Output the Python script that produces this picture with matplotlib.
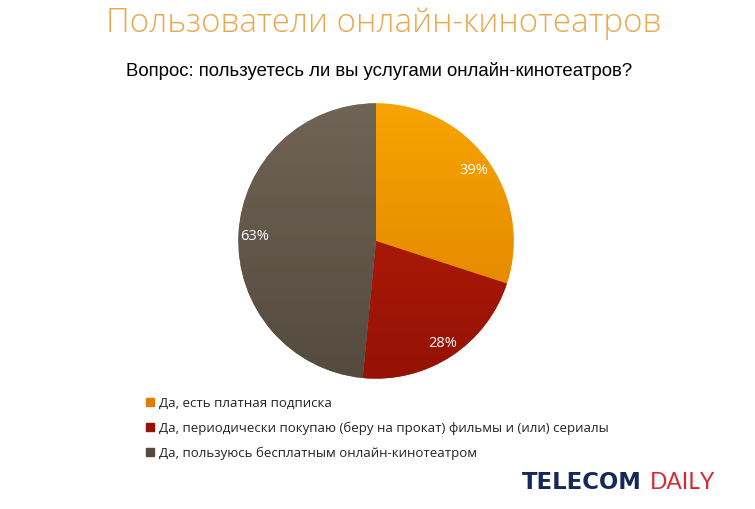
import numpy as np
import matplotlib
matplotlib.use("Agg")
import matplotlib.pyplot as plt
from matplotlib.colors import LinearSegmentedColormap

title = "Пользователи онлайн-кинотеатров"
subtitle = "Вопрос: пользуетесь ли вы услугами онлайн-кинотеатров?"
categories = ["Да, есть платная подписка",
              "Да, периодически покупаю (беру на прокат) фильмы и (или) сериалы",
              "Да, пользуюсь бесплатным онлайн-кинотеатром"]
values = [39, 28, 63]
top_colors = ["#F7A400", "#BC1E0A", "#6F6456"]
bot_colors = ["#DE7E00", "#951204", "#544A3D"]

W, H = 755, 510
fig = plt.figure(figsize=(W / 100, H / 100), dpi=100)
fig.patch.set_facecolor("white")
renderer = fig.canvas.get_renderer()


def fit_text(x0, x1, ybase, s, size, **kw):
    t = fig.text(x0 / W, 1 - ybase / H, s, ha="left", va="baseline", fontsize=size, **kw)
    w = t.get_window_extent(renderer).width
    t.set_fontsize(size * (x1 - x0) / w)
    return t


cx, cy, r = 376, 242, 139
ax = fig.add_axes([(cx - r) / W, (H - cy - r) / H, 2 * r / W, 2 * r / H])
wedges, texts = ax.pie(values, startangle=90, counterclock=False,
                       colors=top_colors, radius=1,
                       labels=[f"{v}%" for v in values], labeldistance=0.88,
                       wedgeprops=dict(linewidth=0))
for t in texts:
    t.set_ha("center"); t.set_va("center")
    t.set_color("white"); t.set_fontsize(10.5); t.set_family("Open Sans")

grad = np.linspace(0, 1, 256).reshape(-1, 1)
for w, c1, c2 in zip(wedges, top_colors, bot_colors):
    cmap = LinearSegmentedColormap.from_list("g", [c2, c1])
    im = ax.imshow(grad, extent=(-1, 1, -1, 1), origin="lower", cmap=cmap,
                   aspect="auto", zorder=w.get_zorder() + 0.1, interpolation="bilinear")
    im.set_clip_path(w)
for t in texts:
    t.set_zorder(5)
ax.set_xlim(-1.01, 1.01); ax.set_ylim(-1.01, 1.01)
ax.axis("off")

fit_text(106, 662, 32, title, 24, color="#EAA84E", family="Open Sans", fontweight="light")
fit_text(126, 634, 76, subtitle, 12, color="black", family="Liberation Sans")

ys = [403, 428, 453]
for cat, c1, c2, y in zip(categories, top_colors, bot_colors, ys):
    fig.patches.append(plt.Rectangle(((146) / W, 1 - (y + 4) / H), 8 / W, 8 / H,
                                     transform=fig.transFigure, color=c2, figure=fig))
    fig.text(159 / W, 1 - y / H, cat, ha="left", va="center", fontsize=9.5,
             color="#222222", family="Open Sans")

fit_text(522, 642, 489, "TELECOM", 16, fontweight="bold", color="#14285A", family="DejaVu Sans")
fit_text(650, 715, 489, "DAILY", 17, color="#D42A35", family="Lato")

fig.savefig("out.png", dpi=100, facecolor="white")
